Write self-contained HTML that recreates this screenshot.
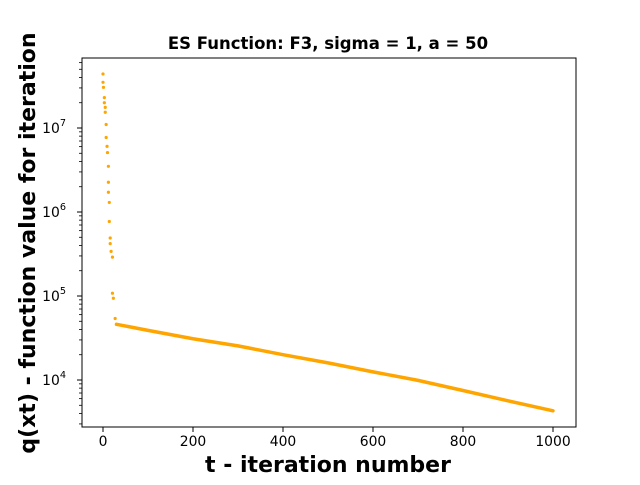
<!DOCTYPE html>
<html><head><meta charset="utf-8"><style>
body{margin:0;background:#fff;}
svg text{font-family:"DejaVu Sans","Liberation Sans",sans-serif;}
</style></head><body>
<svg width="640" height="480" viewBox="0 0 640 480">
<rect width="640" height="480" fill="#fff"/>
<g id="plot"></g>
<rect x="82" y="58" width="494" height="369" fill="none" stroke="#000" stroke-width="1"/>
<text x="328" y="49" text-anchor="middle" font-size="16.5" font-weight="bold">ES Function: F3, sigma = 1, a = 50</text>
<text x="328" y="472" text-anchor="middle" font-size="22" font-weight="bold">t - iteration number</text>
<text transform="translate(35,243) rotate(-90)" text-anchor="middle" font-size="22" font-weight="bold">q(xt) - function value for iteration</text>
</svg>
<script>
const xTicks=[0,200,400,600,800,1000];
const yDecades=[4,5,6,7];
const earlyIter=[0,0,1,3,3,5,5,7,7,9,10,12,12,12,14,14,16,16,18,21,21,23,27];
const earlyVal=[4.4e7,3.5e7,3.05e7,2.3e7,2.0e7,1.76e7,1.54e7,1.1e7,7.7e6,6.05e6,5.1e6,3.5e6,2.26e6,1.72e6,1.3e6,7.7e5,4.9e5,4.2e5,3.4e5,2.9e5,1.08e5,9.4e4,5.4e4];
const mainIter=[30,100,200,300,400,500,600,700,800,900,1000];
const mainVal=[4.6e4,3.9e4,3.1e4,2.55e4,2.0e4,1.6e4,1.25e4,9.9e3,7.5e3,5.65e3,4.3e3];
const NS='http://www.w3.org/2000/svg';
const X=v=>103+v*0.45;
const Y=v=>380-(Math.log10(v)-4)*84;
const g=document.getElementById('plot');
function mk(t,a){const e=document.createElementNS(NS,t);for(const k in a)e.setAttribute(k,a[k]);g.appendChild(e);return e;}
xTicks.forEach(t=>{
 const l=mk('line',{x1:X(t),x2:X(t),y1:427,y2:432,stroke:'#000'});
 
 
 const tx=mk('text',{x:X(t),y:446,'text-anchor':'middle','font-size':13.9});
 tx.textContent=t;
 
 
});
yDecades.forEach(d=>{
 const y=Y(Math.pow(10,d));
 const l=mk('line',{x1:77,x2:82,y1:y,y2:y,stroke:'#000'});
 
 
 const tx=mk('text',{x:66,y:y+5,'text-anchor':'end','font-size':13.9});
 tx.innerHTML='10<tspan dy="-7" font-size="9.7">'+d+'</tspan>';
 
 
});
[3,4,5,6,7].forEach(d=>{for(let m=2;m<10;m++){const v=m*Math.pow(10,d);const y=Y(v);if(y<58||y>427)continue;
 const l=mk('line',{x1:79,x2:82,y1:y,y2:y,stroke:'#000','stroke-width':0.8});
 
 }});
let pts=mainIter.map((t,i)=>X(t)+','+Y(mainVal[i])).join(' ');
const pl=mk('polyline',{points:pts,fill:'none',stroke:'#FFA500','stroke-width':3.5,'stroke-linecap':'round'});


earlyIter.forEach((t,i)=>{
 const c=mk('circle',{cx:X(t),cy:Y(earlyVal[i]),r:1.6,fill:'#FFA500'});
 
 
});
</script>
</body></html>
